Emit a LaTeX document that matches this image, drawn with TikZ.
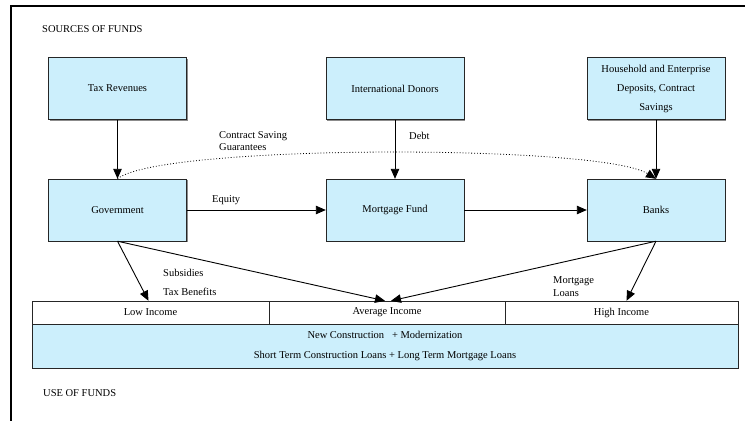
\documentclass[tikz,border=0pt]{standalone}
\usepackage{fontspec}
\setmainfont{Liberation Serif}
\usetikzlibrary{arrows.meta,shadows}
\begin{document}
\begin{tikzpicture}[x=1pt,y=-1pt,font=\fontsize{10.5}{12}\selectfont,
    fundbox/.style={rectangle,draw=black!85,fill=cyan!20,minimum width=138pt,minimum height=62pt,inner sep=0pt,align=center,
        drop shadow={shadow xshift=1pt,shadow yshift=-1pt,fill=black!45,opacity=1}},
    cell/.style={rectangle,draw=black!85,fill=white,minimum height=23pt,inner sep=0pt},
    lbl/.style={anchor=west,inner sep=0pt},
    arr/.style={-{Triangle[length=10pt,width=8.5pt]},line width=0.9pt}]
    \useasboundingbox (0,0) rectangle (745,421);
    \draw[line width=1.6pt] (745,6) -- (11,6) -- (11,421);
    \node[lbl] (src) at (42,29) {SOURCES OF FUNDS};
    \node[lbl] (use) at (43,393) {USE OF FUNDS};
    % sources
    \node[fundbox] (tax) at (117.5,88.5) {Tax Revenues};
    \node[fundbox] (don) at (395,88.5) {International Donors};
    \node[fundbox,font=\fontsize{10.5}{19}\selectfont] (hh) at (656,88.5) {Household and Enterprise\\Deposits, Contract\\Savings};
    \node[fundbox] (gov) at (117.5,210) {Government};
    \node[fundbox] (mf) at (395,210) {Mortgage Fund};
    \node[fundbox] (bank) at (656,210) {Banks};
    % use
    \node[cell,minimum width=237pt] (low) at (150.5,312.5) {Low Income};
    \node[cell,minimum width=236pt] (avg) at (387,312.5) {Average Income};
    \node[cell,minimum width=233pt] (high) at (621.5,312.5) {High Income};
    \node[fundbox,minimum width=706pt,minimum height=44pt,font=\fontsize{10.5}{20}\selectfont] (works) at (385,346) {New Construction\ \ \ + Modernization\\Short Term Construction Loans + Long Term Mortgage Loans};
    \draw[arr] (tax) -- (gov);
    \draw[arr] (don) -- (mf);
    \draw[arr] (hh) -- (bank);
    \draw[arr] (gov) -- (mf);
    \draw[arr] (mf) -- (bank);
    \draw[arr,dotted,line width=0.8pt] (gov.north) .. controls (160,144) and (600,144) .. (bank.north);
    \draw[arr] (gov.south) -- ([xshift=-2pt]low.north);
    \draw[arr] (gov.south) -- ([xshift=-2pt]avg.north);
    \draw[arr] (bank.south) -- ([xshift=4pt]avg.north);
    \draw[arr] (bank.south) -- ([xshift=5pt]high.north);
    % labels
    \node[lbl] (csg1) at (219,136) {Contract Saving};
    \node[lbl] (csg2) at (219,147) {Guarantees};
    \node[lbl] (debt) at (409,136) {Debt};
    \node[lbl] (eq) at (212,200) {Equity};
    \node[lbl] (sub) at (163,273) {Subsidies};
    \node[lbl] (tb) at (163,292) {Tax Benefits};
    \node[lbl] (ml1) at (553,281) {Mortgage};
    \node[lbl] (ml2) at (553,293) {Loans};
\end{tikzpicture}
\end{document}
